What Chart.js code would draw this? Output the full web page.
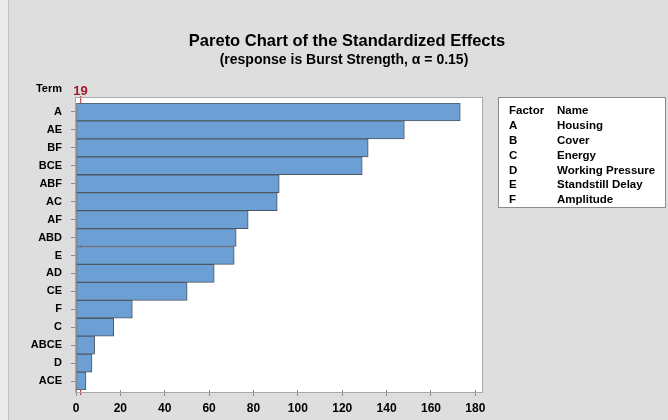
<!DOCTYPE html>
<html>
<head>
<meta charset="utf-8">
<script src="https://cdn.jsdelivr.net/npm/chart.js@4/dist/chart.umd.min.js"></script>
<style>
  html, body { margin: 0; padding: 0; background: #dddedd; }
  #wrap { width: 668px; height: 420px; }
</style>
</head>
<body>
<div id="wrap"><canvas id="pareto"></canvas></div>
<script>
const terms = ["A", "AE", "BF", "BCE", "ABF", "AC", "AF", "ABD", "E", "AD", "CE", "F", "C", "ABCE", "D", "ACE"];
const effects = [173.2, 148, 131.7, 129, 91.6, 90.7, 77.6, 72.2, 71.3, 62.3, 50.1, 25.4, 17, 8.4, 7.2, 4.5];
const xTicks = [0, 20, 40, 60, 80, 100, 120, 140, 160, 180];
const refValue = 1.9;
const refLabel = "19";
const factors = ["A", "B", "C", "D", "E", "F"];
const factorNames = ["Housing", "Cover", "Energy", "Working Pressure", "Standstill Delay", "Amplitude"];

const FONT = "'Liberation Sans', Arial, sans-serif";
Chart.defaults.font.family = FONT;

const decor = {
    id: 'decor',
    beforeDraw(chart) {
        const c = chart.ctx, a = chart.chartArea;
        c.save();
        c.fillStyle = '#dddedd';
        c.fillRect(0, 0, chart.width, chart.height);
        c.fillStyle = '#ebebeb';
        c.fillRect(0, 0, 8, chart.height);
        c.fillStyle = '#c4c4c4';
        c.fillRect(8, 0, 1, chart.height);
        c.fillStyle = '#ffffff';
        c.fillRect(a.left, a.top - 5, a.right - a.left, a.bottom - a.top + 7);
        c.restore();
    },
    beforeDatasetsDraw(chart) {
        const c = chart.ctx, a = chart.chartArea;
        const x = chart.scales.x.getPixelForValue(refValue);
        c.save();
        c.strokeStyle = '#b5232f';
        c.lineWidth = 1;
        c.beginPath();
        c.moveTo(x + 0.5, a.top - 7);
        c.lineTo(x + 0.5, a.bottom + 5);
        c.stroke();
        c.restore();
    },
    afterDraw(chart) {
        const c = chart.ctx, a = chart.chartArea;
        c.save();
        // plot frame
        c.strokeStyle = '#a8a8a8';
        c.lineWidth = 1;
        c.strokeRect(a.left - 0.5, a.top - 5.5, a.right - a.left + 1, a.bottom - a.top + 8);

        // titles
        c.fillStyle = '#000';
        c.textAlign = 'center';
        c.textBaseline = 'middle';
        c.font = 'bold 16.5px ' + FONT;
        c.fillText('Pareto Chart of the Standardized Effects', 347, 41);
        c.font = 'bold 14px ' + FONT;
        c.fillText('(response is Burst Strength, \u03b1 = 0.15)', 344, 60);

        // term label and reference value
        c.textAlign = 'right';
        c.font = 'bold 11px ' + FONT;
        c.fillText('Term', 62, 89);
        const x = chart.scales.x.getPixelForValue(refValue);
        c.textAlign = 'left';
        c.fillStyle = '#a01c28';
        c.font = 'bold 13px ' + FONT;
        c.fillText(refLabel, x - 7, 91);

        // factor legend
        c.fillStyle = '#ffffff';
        c.fillRect(498, 97, 168, 111);
        c.strokeStyle = '#8c8c8c';
        c.strokeRect(498.5, 97.5, 167, 110);
        c.fillStyle = '#000';
        c.font = 'bold 11.5px ' + FONT;
        c.fillText('Factor', 509, 111);
        c.fillText('Name', 557, 111);
        factors.forEach((f, i) => {
            const y = 126 + i * 14.8;
            c.fillText(f, 509, y);
            c.fillText(factorNames[i], 557, y);
        });
        c.restore();
    }
};

new Chart(document.getElementById('pareto').getContext('2d'), {
    type: 'bar',
    data: {
        labels: terms,
        datasets: [{
            data: effects,
            backgroundColor: '#6c9fd4',
            borderColor: '#4e5864',
            borderWidth: 1,
            borderSkipped: false,
            barPercentage: 1,
            categoryPercentage: 1
        }]
    },
    plugins: [decor],
    options: {
        indexAxis: 'y',
        responsive: true,
        maintainAspectRatio: false,
        animation: false,
        layout: {
            padding: { left: 0, right: 186, top: 103, bottom: 0 }
        },
        plugins: {
            legend: { display: false },
            tooltip: { enabled: false }
        },
        scales: {
            x: {
                min: 0,
                max: 183,
                afterBuildTicks(scale) {
                    scale.ticks = xTicks.map(v => ({ value: v }));
                },
                afterFit(scale) { scale.height = 30; },
                ticks: {
                    color: '#000',
                    padding: 5,
                    font: { size: 12, weight: 'bold' }
                },
                grid: {
                    drawOnChartArea: false,
                    tickLength: 6,
                    color: '#8c8c8c'
                },
                border: { display: false }
            },
            y: {
                afterFit(scale) { scale.width = 76; },
                ticks: {
                    color: '#000',
                    padding: 9,
                    font: { size: 11, weight: 'bold' }
                },
                grid: {
                    offset: false,
                    drawOnChartArea: false,
                    tickLength: 5,
                    color: '#8c8c8c'
                },
                border: { display: false }
            }
        }
    }
});
</script>
</body>
</html>
